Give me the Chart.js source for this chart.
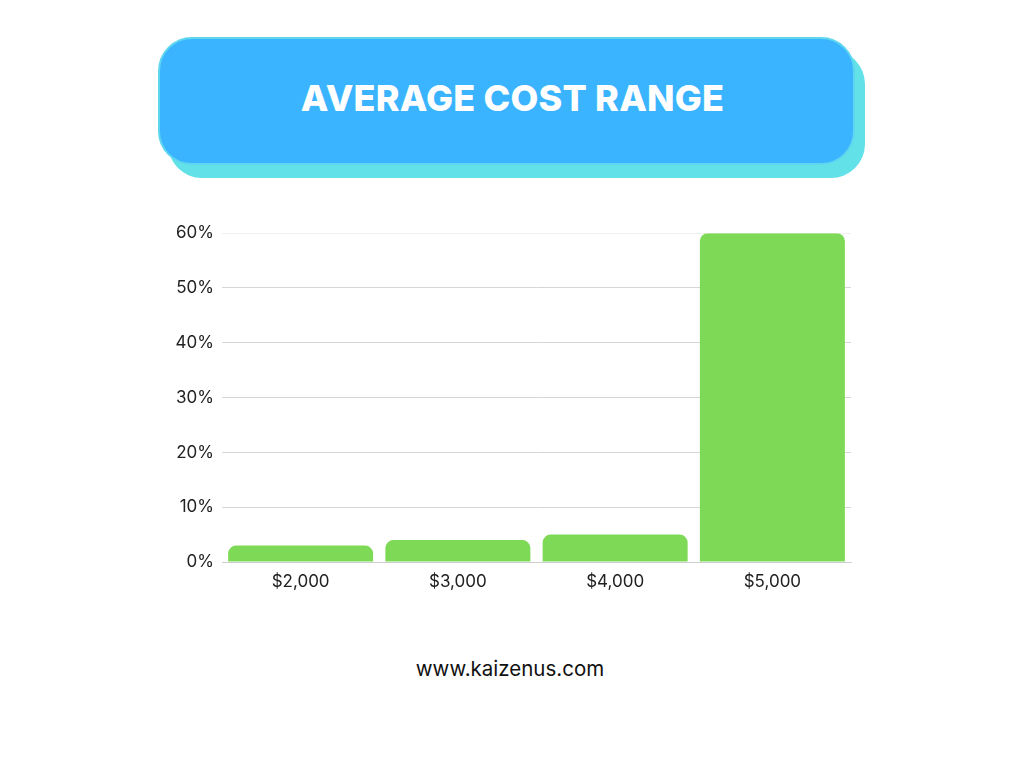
<!DOCTYPE html>
<html>
<head>
<meta charset="utf-8">
<script src="https://cdn.jsdelivr.net/npm/chart.js@4"></script>
<style>
  html, body { margin:0; padding:0; background:#fff; width:1024px; height:768px; overflow:hidden; }
  #shadow { position:absolute; left:168px; top:50px; width:697px; height:128px; background:#62E1E8; border-radius:34px; }
  #box { position:absolute; left:158px; top:37px; width:693px; height:124px; background:#3BB4FF; border:2px solid #5ED6EE; border-radius:34px; }
  #title { position:absolute; left:164px; top:76px; width:697px; text-align:center; color:#fff; font-family:Inter, sans-serif; font-weight:800; font-size:36px; letter-spacing:0.2px; }
  #wrap { position:absolute; left:170px; top:215px; width:690px; height:377px; }
  #footer { position:absolute; left:0; top:656px; width:1020px; text-align:center; font-family:Inter, "Open Sans", sans-serif; font-size:20.5px; color:#111; }
</style>
</head>
<body>
<div id="shadow"></div>
<div id="box"></div>
<div id="title">AVERAGE COST RANGE</div>
<div id="wrap"><canvas id="c"></canvas></div>
<div id="footer">www.kaizenus.com</div>
<script>
const categories = ["$2,000", "$3,000", "$4,000", "$5,000"];
const values = [3, 4, 5, 60];
const yTicks = [0, 10, 20, 30, 40, 50, 60];

new Chart(document.getElementById('c'), {
  type: 'bar',
  data: {
    labels: categories,
    datasets: [{
      data: values,
      backgroundColor: '#7ED957',
      borderRadius: 8,
      borderSkipped: 'start',
      categoryPercentage: 1.0,
      barPercentage: 0.922
    }]
  },
  options: {
    responsive: true,
    maintainAspectRatio: false,
    animation: false,
    layout: { padding: { top: 8, right: 9, left: 0, bottom: 0 } },
    plugins: { legend: { display: false }, tooltip: { enabled: false } },
    scales: {
      x: {
        grid: { display: false },
        border: { display: true, color: '#cfcfcf' },
        ticks: { color: '#222', font: { family: 'Inter, "Open Sans", sans-serif', size: 17 }, padding: 2 },
        afterFit: s => { s.height = 30; }
      },
      y: {
        min: 0, max: 60,
        afterBuildTicks: s => { s.ticks = yTicks.map(v => ({ value: v })); },
        grid: {
          drawTicks: false,
          color: ctx => ctx.tick && ctx.tick.value === 60 ? '#efefef' : '#d6d6d6'
        },
        border: { display: false },
        ticks: {
          color: '#222',
          font: { family: 'Inter, "Open Sans", sans-serif', size: 17 },
          padding: 8,
          callback: v => v + '%'
        },
        afterFit: s => { s.width = 52; }
      }
    }
  }
});
</script>
</body>
</html>
